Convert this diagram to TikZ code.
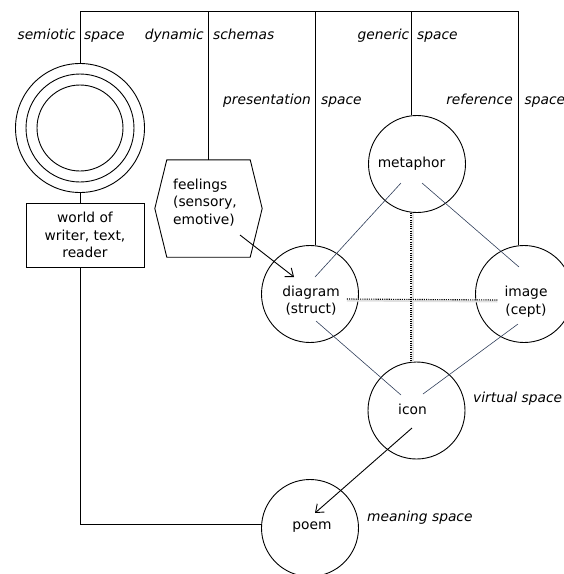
\documentclass[tikz,border=0pt]{standalone}
\usepackage{fontspec}
\setmainfont{DejaVu Sans}
\usetikzlibrary{arrows.meta,calc}
\begin{document}
\begin{tikzpicture}[x=1pt,y=-1pt,
  every node/.style={font=\fontsize{13.8}{17.5}\selectfont},
  ln/.style={line width=0.9pt},
  circ/.style={circle,draw,line width=0.9pt,minimum size=97pt,inner sep=0pt},
  txt/.style={align=center,inner sep=0pt},
  lbl/.style={font=\fontsize{13.8}{17.5}\selectfont\itshape,inner sep=0pt},
  link/.style={line width=0.6pt,draw={rgb,255:red,47;green,62;blue,90}},
  dots/.style={line width=1.1pt,dash pattern=on 1.1pt off 1.1pt},
  shade/.style={line width=2pt,draw=black!12},
  arr/.style={line width=0.9pt,-{Straight Barb[length=7pt,width=11pt]}}
]
\useasboundingbox (0,0) rectangle (564,574);

% semiotic rings and world box
\node[circle,draw,ln,minimum size=129pt,inner sep=0pt] (sem) at (80,128) {};
\draw[ln] (sem.center) circle[radius=54] (sem.center) circle[radius=43];
\node[draw,ln,minimum width=118pt,minimum height=64pt,align=center,inner sep=0pt] (world) at (85,235) {world of\\writer, text,\\reader};

% feelings hexagon
\node[minimum width=107pt,minimum height=97pt,inner sep=0pt] (feel) at (208.5,208.5) {};
\draw[ln] ([xshift=12pt]feel.north west) -- ([xshift=-12pt]feel.north east) -- (feel.east)
  -- ([xshift=-12pt]feel.south east) -- ([xshift=12pt]feel.south west) -- (feel.west) -- cycle;
\node[txt,align=left] (feeltxt) at (205,202.5) {feelings\\(sensory,\\emotive)};

% circles
\node[circ] (meta) at (417,164) {};
\node[circ] (diag) at (310,294) {};
\node[circ] (image) at (524,294) {};
\node[circ] (icon) at (416.5,410.5) {};
\node[circ] (poem) at (310,528) {};

\node[txt] (tmeta) at (411.5,164) {metaphor};
\node[txt] (tdiag) at (311,300.5) {diagram\\(struct)};
\node[txt] (timage) at (526,301.5) {image\\(cept)};
\node[txt] (ticon) at (412.5,409) {icon};
\node[txt] (tpoem) at (312,527) {poem};

% frame
\coordinate (tl) at (80,11);
\coordinate (tr) at (518,11);
\coordinate (c2) at (208,11);
\coordinate (c3) at (315,11);
\coordinate (c4) at (411,11);
\coordinate (bl) at (80,524);
\draw[ln] (sem.north) -- (tl) -- (tr) -- (tr |- image.north);
\draw[ln] (c2) -- (c2 |- feel.north);
\draw[ln] (c3) -- (c3 |- diag.north);
\draw[ln] (c4) -- (c4 |- meta.north);
\draw[ln] (sem.south) -- (sem.south |- world.north);
\draw[ln] (sem.south |- world.south) -- (bl) -- (bl -| poem.west);

% labels
\node[lbl,anchor=base east] (l1) at (76,39.5) {semiotic};
\node[lbl,anchor=base west] (l2) at (84,39.5) {space};
\node[lbl,anchor=base east] (l3) at (204,39.5) {dynamic};
\node[lbl,anchor=base west] (l4) at (213,39.5) {schemas};
\node[lbl,anchor=base east] (l5) at (409.5,39.5) {generic};
\node[lbl,anchor=base west] (l6) at (417,39.5) {space};
\node[lbl,anchor=base east] (l7) at (311,104.5) {presentation};
\node[lbl,anchor=base west] (l8) at (321,104.5) {space};
\node[lbl,anchor=base east] (l9) at (513,104.5) {reference};
\node[lbl,anchor=base west] (l10) at (524.5,104.5) {space};
\node[lbl,anchor=base west] (l11) at (473,402.5) {virtual space};
\node[lbl,anchor=base west] (l12) at (367,521.5) {meaning space};

% dotted cross
\draw[shade] ([shift={(1.5,0)}]c4 |- meta.south) -- ([shift={(1.5,0)}]c4 |- icon.north);
\draw[shade] ([shift={(7,0)}]tdiag.east) -- ([shift={(-7,0)}]timage.west);
\draw[dots] (c4 |- meta.south) -- (c4 |- icon.north);
\draw[dots] ([shift={(7,-1.5)}]tdiag.east) -- ([shift={(-7,-1.5)}]timage.west);

% links
\draw[link] ([shift={(-10.5,19)}]tmeta.center) -- ([shift={(4,-23.5)}]tdiag.center);
\draw[link] ([shift={(10.5,19)}]tmeta.center) -- ([shift={(-7,-34.5)}]timage.center);
\draw[link] ([shift={(5,20.5)}]tdiag.center) -- ([shift={(-11.5,-14)}]ticon.center);
\draw[link] ([shift={(-8,22.5)}]timage.center) -- ([shift={(10.5,-15)}]ticon.center);

% arrows
\draw[arr] ([shift={(35,32.5)}]feeltxt.center) -- ([shift={(-17,-23.5)}]tdiag.center);
\draw[arr] ([shift={(-0.5,19)}]ticon.center) -- ([shift={(3,-14)}]tpoem.center);
\end{tikzpicture}
\end{document}
